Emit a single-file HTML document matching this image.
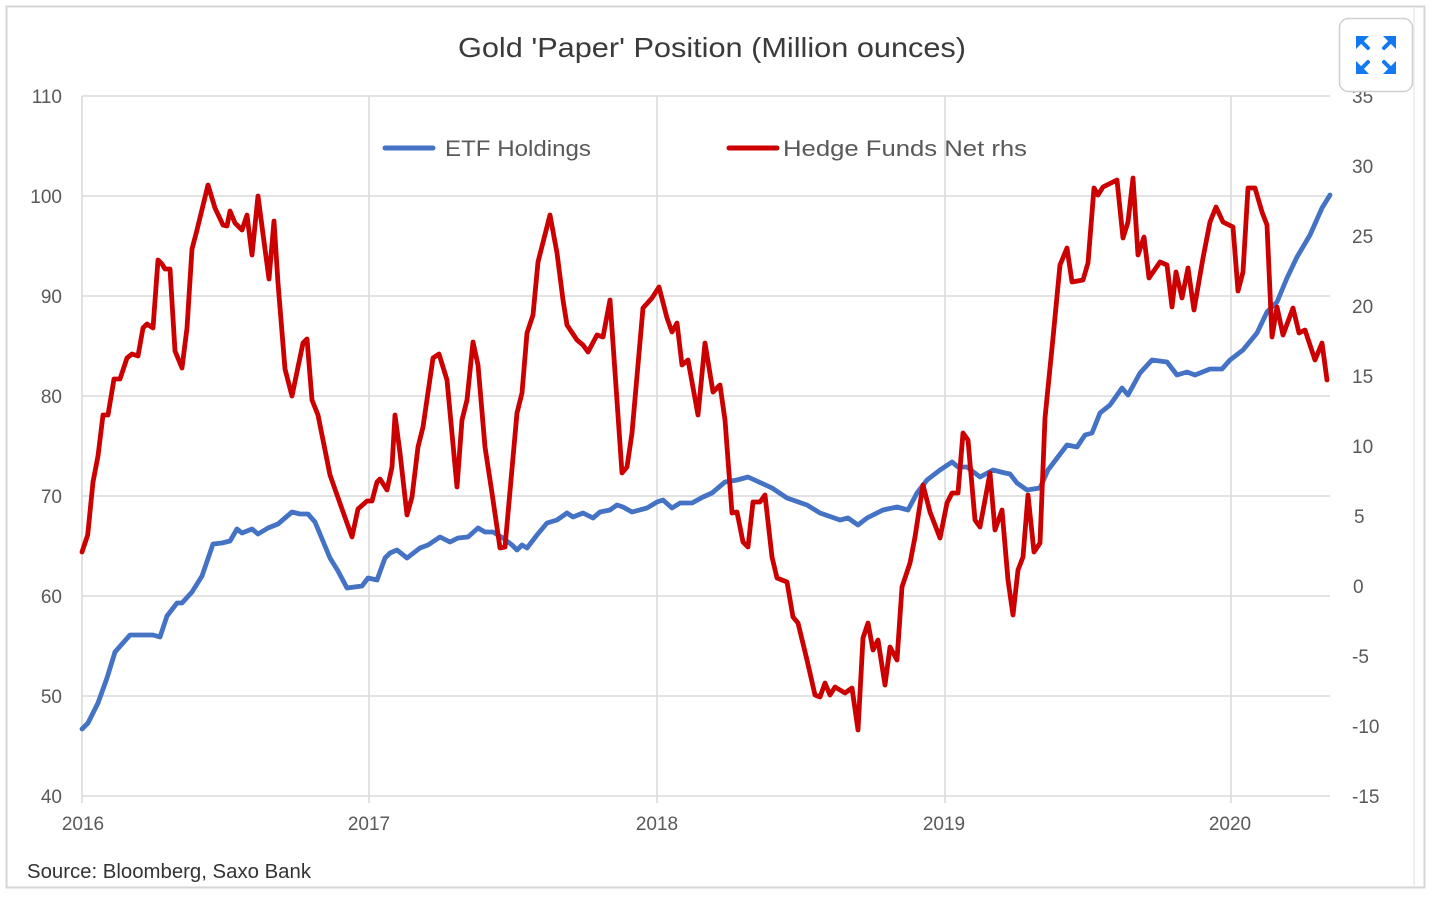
<!DOCTYPE html>
<html>
<head>
<meta charset="utf-8">
<style>
html,body{margin:0;padding:0;background:#fff;}
body{width:1434px;height:900px;overflow:hidden;}
svg{display:block;}
text{font-family:"Liberation Sans",Arial,sans-serif;}
</style>
</head>
<body>
<svg width="1434" height="900" viewBox="0 0 1434 900" xmlns="http://www.w3.org/2000/svg">
<rect x="0" y="0" width="1434" height="900" fill="#fff"/>
<!-- frame -->
<rect x="6.5" y="6.5" width="1418" height="881" fill="none" stroke="#d6d6d6" stroke-width="2"/>
<line x1="1414" y1="8" x2="1414" y2="886" stroke="#ececec" stroke-width="1.5"/>

<!-- title -->
<text x="712" y="57" text-anchor="middle" font-size="28" fill="#3a3a3a" textLength="508" lengthAdjust="spacingAndGlyphs">Gold 'Paper' Position (Million ounces)</text>

<!-- gridlines -->
<g stroke="#dadada" stroke-width="1.6">
<line x1="82" y1="96" x2="1330" y2="96"/>
<line x1="82" y1="196" x2="1330" y2="196"/>
<line x1="82" y1="296" x2="1330" y2="296"/>
<line x1="82" y1="396" x2="1330" y2="396"/>
<line x1="82" y1="496" x2="1330" y2="496"/>
<line x1="82" y1="596" x2="1330" y2="596"/>
<line x1="82" y1="696" x2="1330" y2="696"/>
<line x1="82" y1="796" x2="1330" y2="796"/>
<line x1="82" y1="96" x2="82" y2="803"/>
<line x1="369" y1="96" x2="369" y2="803"/>
<line x1="657" y1="96" x2="657" y2="803"/>
<line x1="945" y1="96" x2="945" y2="803"/>
<line x1="1231" y1="96" x2="1231" y2="803"/>
</g>

<!-- left axis labels -->
<g font-size="19" fill="#595959" text-anchor="end">
<text x="62" y="103">110</text>
<text x="62" y="203">100</text>
<text x="62" y="303">90</text>
<text x="62" y="403">80</text>
<text x="62" y="503">70</text>
<text x="62" y="603">60</text>
<text x="62" y="703">50</text>
<text x="62" y="803">40</text>
</g>

<!-- right axis labels -->
<g font-size="19" fill="#595959" text-anchor="start">
<text x="1352" y="103">35</text>
<text x="1352" y="173">30</text>
<text x="1352" y="243">25</text>
<text x="1352" y="313">20</text>
<text x="1352" y="383">15</text>
<text x="1352" y="453">10</text>
<text x="1354" y="523">5</text>
<text x="1353" y="593">0</text>
<text x="1352" y="663">-5</text>
<text x="1352" y="733">-10</text>
<text x="1352" y="803">-15</text>
</g>

<!-- x labels -->
<g font-size="19" fill="#595959" text-anchor="middle">
<text x="83" y="830">2016</text>
<text x="369" y="830">2017</text>
<text x="657" y="830">2018</text>
<text x="944" y="830">2019</text>
<text x="1230" y="830">2020</text>
</g>

<!-- legend -->
<line x1="385" y1="148" x2="433" y2="148" stroke="#4472c4" stroke-width="5" stroke-linecap="round"/>
<text x="445" y="156" font-size="22" fill="#595959" textLength="146" lengthAdjust="spacingAndGlyphs">ETF Holdings</text>
<line x1="729" y1="148" x2="777" y2="148" stroke="#cc0000" stroke-width="5" stroke-linecap="round"/>
<text x="783" y="156" font-size="22" fill="#595959" textLength="244" lengthAdjust="spacingAndGlyphs">Hedge Funds Net rhs</text>

<!-- ETF holdings (blue) -->
<polyline fill="none" stroke="#4472c4" stroke-width="4.8" stroke-linejoin="round" stroke-linecap="round" points="82,729 88,723 98,703 107,678 115,652 130,635 153,635 160,637 167,616 177,603 182,603 192,592 202,576 213,544 222,543 230,541 237,529 242,533 252,529 258,534 268,528 278,524 292,512 300,514 308,514 315,522 330,558 338,571 347,588 362,586 368,578 377,580 385,558 390,553 397,550 407,558 420,548 428,545 440,537 450,542 458,538 468,537 478,528 485,532 493,532 503,538 512,545 517,550 522,545 527,548 537,535 547,523 557,520 567,513 573,517 583,513 593,518 600,512 610,510 617,505 623,507 632,512 647,508 657,502 663,500 672,508 680,503 692,503 703,497 712,493 725,482 737,480 748,477 772,488 787,498 807,505 820,513 840,520 848,518 858,525 867,518 883,510 897,507 908,510 917,493 927,480 940,470 952,462 958,467 967,467 980,477 993,470 1005,473 1010,474 1017,483 1027,490 1040,488 1048,470 1067,445 1077,447 1085,435 1092,433 1100,413 1110,405 1122,388 1128,395 1140,373 1152,360 1167,362 1177,375 1187,372 1195,375 1210,369 1222,369 1230,360 1243,350 1257,333 1267,312 1277,302 1287,278 1297,257 1310,235 1322,208 1330,195"/>

<!-- Hedge funds (red) -->
<polyline fill="none" stroke="#cc0000" stroke-width="4.8" stroke-linejoin="round" stroke-linecap="round" points="82,552 87.7,535 93,482 98,456 103,415 108,415 114,379 120,379 127,358 132,354 138,356 143,328 147,324 153,328 158,260 162,264 165,269 170,269 175,351 182,368 187,328 192,249 197,230 208,185 215,208 223,225 227,226 230,211 235,223 242,230 247,215 252,255 258,196 263,234 269,279 274,221 278,283 285,369 292,396 303,343 307,339 312,400 318,415 330,475 342,509 352,537 358,509 367,501 372,501 377,482 380,479 387,490 392,467 395,415 400,453 407,515 412,497 418,447 423,427 433,358 439,354 447,380 457,487 462,420 467,400 473,342 478,365 485,447 492,493 500,548 505,547 517,413 522,393 527,333 533,315 538,262 550,215 557,253 563,300 567,325 577,340 583,345 588,352 597,335 603,337 610,300 622,473 627,467 632,433 643,308 652,298 659,287 667,318 672,332 677,323 682,365 688,360 698,415 705,343 713,392 720,385 725,420 732,513 737,512 743,542 748,547 753,502 760,502 765,495 772,557 777,578 787,582 793,617 798,623 807,660 815,695 820,697 825,683 830,695 835,687 845,693 852,688 858,730 863,638 868,623 873,650 878,640 885,685 890,647 897,660 902,587 910,563 915,537 923,485 930,512 940,538 947,503 952,493 958,493 963,433 968,440 975,520 980,527 990,473 995,530 1002,510 1008,580 1013,615 1018,570 1023,557 1028,495 1034,552 1040,543 1045,418 1053,338 1060,265 1067,248 1072,282 1083,280 1088,263 1094,188 1098,195 1103,187 1117,180 1123,238 1128,222 1133,178 1138,255 1144,237 1149,278 1160,262 1167,265 1172,307 1176,272 1182,298 1188,268 1194,310 1203,258 1210,222 1216,207 1223,222 1233,227 1238,291 1243,272 1248,188 1255,188 1262,212 1267,225 1272,337 1277,307 1283,335 1293,308 1299,333 1305,330 1315,360 1322,343 1327,380"/>

<!-- source -->
<text x="27" y="878" font-size="20" fill="#333" textLength="284" lengthAdjust="spacingAndGlyphs">Source: Bloomberg, Saxo Bank</text>

<!-- expand button -->
<rect x="1339.5" y="18.5" width="73" height="73" rx="9" ry="9" fill="#fff" stroke="#cfcfcf" stroke-width="1.5"/>
<g fill="#1479f0" stroke="#1479f0" stroke-linecap="round">
<polygon points="1356,36 1369,36 1356,49" stroke="none"/>
<line x1="1359" y1="39" x2="1368" y2="48" stroke-width="4"/>
<polygon points="1396,36 1383,36 1396,49" stroke="none"/>
<line x1="1393" y1="39" x2="1384" y2="48" stroke-width="4"/>
<polygon points="1356,74 1369,74 1356,61" stroke="none"/>
<line x1="1359" y1="71" x2="1368" y2="62" stroke-width="4"/>
<polygon points="1396,74 1383,74 1396,61" stroke="none"/>
<line x1="1393" y1="71" x2="1384" y2="62" stroke-width="4"/>
</g>
</svg>
</body>
</html>
